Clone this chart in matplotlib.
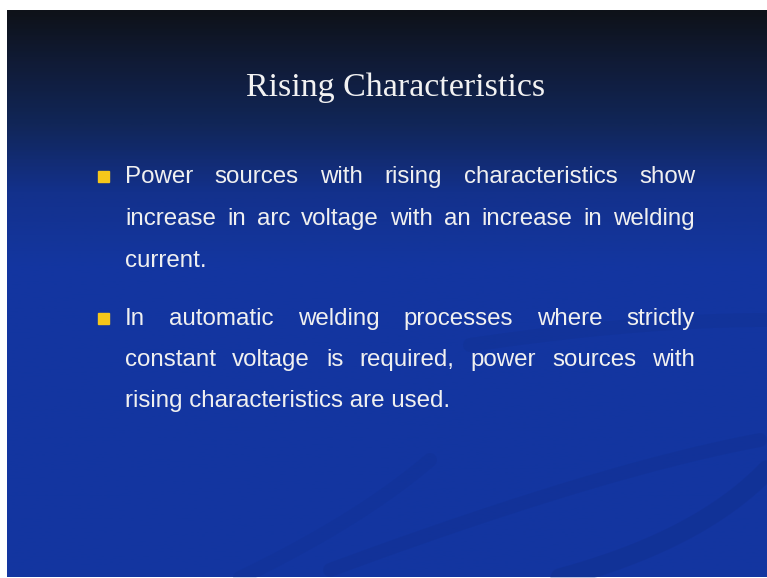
import numpy as np
import matplotlib
matplotlib.use("Agg")
import matplotlib.pyplot as plt
from matplotlib.colors import LinearSegmentedColormap
from matplotlib.patches import Rectangle
from matplotlib import font_manager

W, H = 767, 578
title = "Rising Characteristics"
bullets = [
    ["Power sources with rising characteristics show",
     "increase in arc voltage with an increase in welding",
     "current."],
    ["In automatic welding processes where strictly",
     "constant voltage is required, power sources with",
     "rising characteristics are used."],
]

fig = plt.figure(figsize=(W / 100, H / 100), dpi=100)
fig.patch.set_facecolor("white")
ax = fig.add_axes([0, 0, 1, 1])
ax.set_xlim(0, W)
ax.set_ylim(H, 0)
ax.axis("off")

# background gradient (slide area)
x0, y0, x1, y1 = 7, 10, W, H - 1
cmap = LinearSegmentedColormap.from_list(
    "bg", [(0.0, "#0e1219"), (0.08, "#101a33"), (0.2, "#112658"),
           (0.32, "#13318c"), (0.45, "#1336a0"), (1.0, "#1335a0")])
grad = np.linspace(0, 1, 400).reshape(-1, 1)
ax.imshow(grad, cmap=cmap, extent=[x0, x1, y1, y0], aspect="auto", zorder=0)

# faint swooshes
t = np.linspace(0, 1, 200)
for (sx, sy, ex, ey, cx, cy, lw, a) in [
        (560, 578, 767, 470, 700, 540, 14, 0.25),
        (330, 570, 760, 440, 600, 470, 10, 0.2),
        (240, 578, 430, 460, 360, 520, 10, 0.15),
        (470, 345, 767, 320, 640, 320, 10, 0.18)]:
    bx = (1 - t) ** 2 * sx + 2 * (1 - t) * t * cx + t ** 2 * ex
    by = (1 - t) ** 2 * sy + 2 * (1 - t) * t * cy + t ** 2 * ey
    ax.plot(bx, by, color="#0f2a80", lw=lw, alpha=a,
            solid_capstyle="round", zorder=1)

# title
ax.text(396, 96, title, color="#f2f2f2", fontsize=24.5,
        family="Liberation Serif", ha="center", va="baseline", zorder=3)

renderer = fig.canvas.get_renderer()
try:
    font_manager.findfont("Liberation Sans Narrow", fallback_to_default=False)
    fam = "Liberation Sans Narrow"
except Exception:
    fam = "Liberation Sans"


def text_width(s, size):
    tt = ax.text(0, 0, s, fontsize=size, family=fam)
    bb = tt.get_window_extent(renderer)
    tt.remove()
    return bb.width

# fit font so the last line matches the reference length
fs = 16.0 * 328.0 / text_width(bullets[1][-1], 16.0)
txt_col = "#f0f0f0"
left, right = 125, 695
line_y = [[183, 225, 267], [325, 366, 407]]

for bi, lines in enumerate(bullets):
    ys = line_y[bi]
    ax.add_patch(Rectangle((98, ys[0] - 12), 11, 11, color="#f6c71b", zorder=3))
    for li, line in enumerate(lines):
        y = ys[li]
        words = line.split(" ")
        last = li == len(lines) - 1
        if last:
            ax.text(left, y, line, fontsize=fs, family=fam, color=txt_col,
                    ha="left", va="baseline", zorder=3)
            continue
        widths = [text_width(w, fs) for w in words]
        gap = (right - left - sum(widths)) / (len(words) - 1)
        x = left
        for w, ww in zip(words, widths):
            ax.text(x, y, w, fontsize=fs, family=fam, color=txt_col,
                    ha="left", va="baseline", zorder=3)
            x += ww + gap

fig.savefig("out.png", dpi=100, facecolor="white")
